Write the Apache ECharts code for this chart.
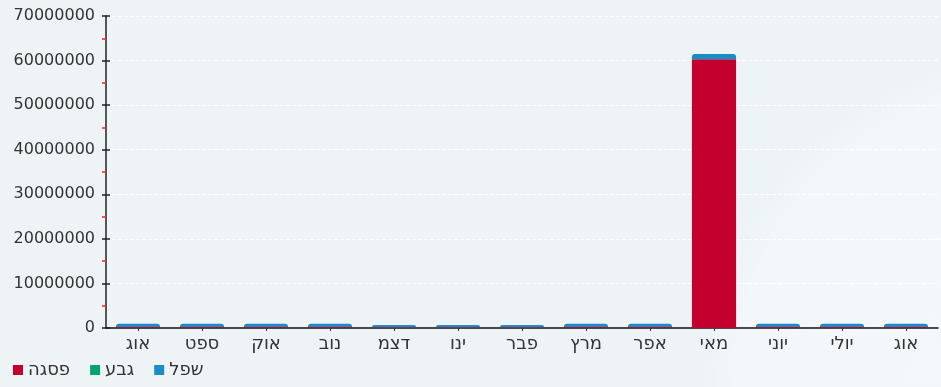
<!DOCTYPE html>
<html>
<head>
<meta charset="utf-8">
<script src="https://cdn.jsdelivr.net/npm/echarts@6/dist/echarts.min.js"></script>
<style>
  html, body { margin: 0; padding: 0; }
  #main { width: 941px; height: 387px; }
</style>
</head>
<body>
<div id="main"></div>
<script>
// months, Aug to Aug
const categories = ['אוג', 'ספט', 'אוק', 'נוב', 'דצמ', 'ינו', 'פבר', 'מרץ', 'אפר', 'מאי', 'יוני', 'יולי', 'אוג']
const seriesNames = ['פסגה', 'גבע', 'שפל']
const peak = [250000, 250000, 250000, 250000, 150000, 150000, 150000, 250000, 250000, 60300000, 250000, 250000, 250000]
const shoulder = [0, 0, 0, 0, 0, 0, 0, 0, 0, 0, 0, 0, 0]
const offPeak = [700000, 700000, 700000, 700000, 550000, 550000, 550000, 700000, 700000, 1200000, 700000, 700000, 700000]
const yTicks = { min: 0, max: 70000000, interval: 10000000 }

const colors = ['#c4002f', '#00a36c', '#1a8cc6']

const chart = echarts.init(document.getElementById('main'))

const barSeries = [peak, shoulder, offPeak].map((data, i) => ({
  name: seriesNames[i],
  type: 'bar',
  stack: 'total',
  barWidth: '69%',
  yAxisIndex: 0,
  itemStyle: {
    color: colors[i],
    borderRadius: i === 2 ? [3, 3, 0, 0] : 0
  },
  data: data
}))

chart.setOption({
  backgroundColor: {
    type: 'radial',
    x: 1.1, y: 1.0, r: 0.85,
    colorStops: [
      { offset: 0, color: '#f5f8fa' },
      { offset: 0.9, color: '#f3f7f9' },
      { offset: 1, color: '#eef3f6' }
    ]
  },
  textStyle: { fontFamily: 'DejaVu Sans' },
  animation: false,
  grid: { left: 106, right: 3, top: 16, bottom: 59 },
  legend: {
    left: 13,
    top: 361,
    padding: 0,
    itemWidth: 10,
    itemHeight: 10,
    itemGap: 20,
    icon: 'rect',
    textStyle: { fontSize: 18, color: '#333', fontFamily: 'DejaVu Sans' },
    data: seriesNames
  },
  xAxis: {
    type: 'category',
    data: categories,
    axisLine: { lineStyle: { color: '#111', width: 1.5 } },
    axisTick: { show: true, length: 3, alignWithLabel: true, lineStyle: { color: '#333' } },
    axisLabel: { fontSize: 18, color: '#333', margin: 7 },
    splitLine: { show: false }
  },
  yAxis: [
    {
      type: 'value',
      min: yTicks.min,
      max: yTicks.max,
      interval: yTicks.interval,
      axisLine: { show: true, lineStyle: { color: '#222', width: 1.5 } },
      axisTick: { show: true, length: 4, lineStyle: { color: '#222', width: 1.5 } },
      minorTick: { show: true, splitNumber: 2, length: 4, lineStyle: { color: '#ff2020', width: 1.5 } },
      axisLabel: { fontSize: 16, color: '#333', margin: 11, formatter: (v) => String(v) },
      splitLine: { show: true, lineStyle: { color: 'rgba(255,255,255,0.9)', type: 'dashed' } }
    },
    {
      type: 'value',
      position: 'left',
      min: yTicks.min,
      max: yTicks.max,
      interval: yTicks.interval,
      axisLine: { show: false },
      axisTick: { show: true, inside: true, length: 4, lineStyle: { color: '#222', width: 1.5 } },
      axisLabel: { show: false },
      splitLine: { show: false }
    }
  ],
  series: barSeries
})
</script>
</body>
</html>
